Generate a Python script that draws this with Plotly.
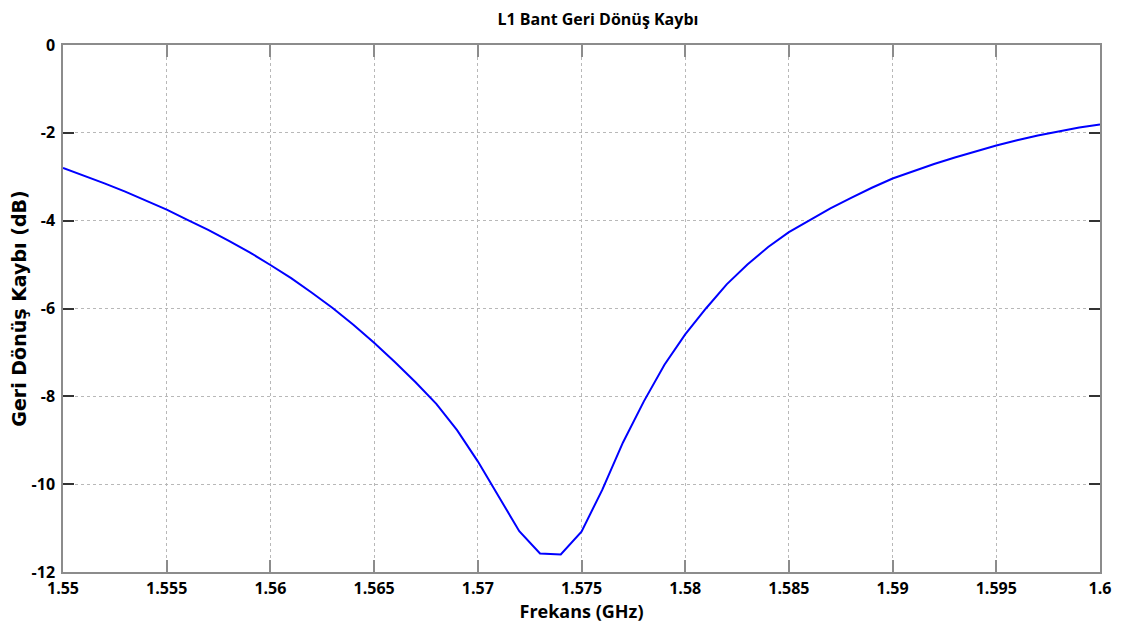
import plotly.graph_objects as go

freq_ghz = [1.550, 1.551, 1.552, 1.553, 1.554, 1.555, 1.556, 1.557, 1.558, 1.559,
            1.560, 1.561, 1.562, 1.563, 1.564, 1.565, 1.566, 1.567, 1.568, 1.569,
            1.570, 1.571, 1.572, 1.573, 1.574, 1.575, 1.576, 1.577, 1.578, 1.579,
            1.580, 1.581, 1.582, 1.583, 1.584, 1.585, 1.586, 1.587, 1.588, 1.589,
            1.590, 1.591, 1.592, 1.593, 1.594, 1.595, 1.596, 1.597, 1.598, 1.599,
            1.600]
return_loss_db = [-2.80, -2.97, -3.15, -3.34, -3.54, -3.75, -3.98, -4.21, -4.46, -4.72,
                  -5.01, -5.31, -5.64, -5.99, -6.37, -6.78, -7.22, -7.68, -8.17, -8.77,
                  -9.48, -10.28, -11.07, -11.58, -11.60, -11.08, -10.13, -9.05, -8.12, -7.28,
                  -6.59, -6.00, -5.45, -5.00, -4.60, -4.26, -3.98, -3.72, -3.48, -3.25,
                  -3.04, -2.87, -2.71, -2.56, -2.42, -2.29, -2.17, -2.06, -1.97, -1.88,
                  -1.81]

x_ticks = [1.55, 1.555, 1.56, 1.565, 1.57, 1.575, 1.58, 1.585, 1.59, 1.595, 1.6]
x_tick_labels = ["1.55", "1.555", "1.56", "1.565", "1.57", "1.575", "1.58", "1.585", "1.59", "1.595", "1.6"]
y_ticks = [0, -2, -4, -6, -8, -10, -12]
y_tick_labels = ["0", "-2", "-4", "-6", "-8", "-10", "-12"]

fig = go.Figure()
fig.add_trace(go.Scatter(x=freq_ghz, y=return_loss_db, mode="lines",
                         line=dict(color="#0000ff", width=2), showlegend=False))

tick_font = dict(family="Open Sans", size=16, color="#000", weight="bold")
fig.update_layout(
    width=1113, height=615,
    margin=dict(l=55, r=21, t=37, b=51, autoexpand=False),
    paper_bgcolor="white", plot_bgcolor="white",
    title=dict(text="L1 Bant Geri Dönüş Kaybı", x=0.53, xanchor="center", y=0.981, yanchor="middle",
               font=dict(family="Open Sans", size=16, color="#000", weight="bold")),
    xaxis=dict(range=[1.55, 1.6], tickvals=x_ticks, ticktext=x_tick_labels, automargin=False,
               showline=True, linecolor="#8c8c8c", linewidth=1.5, mirror="ticks",
               ticks="inside", ticklen=12, tickcolor="#8c8c8c", tickwidth=2,
               showgrid=True, gridcolor="#b8b8b8", griddash="dot", gridwidth=1,
               zeroline=False, tickfont=tick_font, ticklabelstandoff=1,
               title=dict(text="Frekans (GHz)", standoff=1,
                          font=dict(family="Open Sans", size=18, color="#000", weight="bold"))),
    yaxis=dict(range=[-12, 0], tickvals=y_ticks, ticktext=y_tick_labels, automargin=False,
               showline=True, linecolor="#8c8c8c", linewidth=1.5, mirror="ticks",
               ticks="inside", ticklen=11, tickcolor="#333", tickwidth=1.5,
               showgrid=True, gridcolor="#b8b8b8", griddash="dot", gridwidth=1,
               zeroline=False, tickfont=tick_font, ticklabelstandoff=3,
               title=dict(text="Geri Dönüş Kaybı (dB)", standoff=5,
                          font=dict(family="DejaVu Sans", size=19, color="#000", weight="bold"))),
)

fig.write_html("out.html")
